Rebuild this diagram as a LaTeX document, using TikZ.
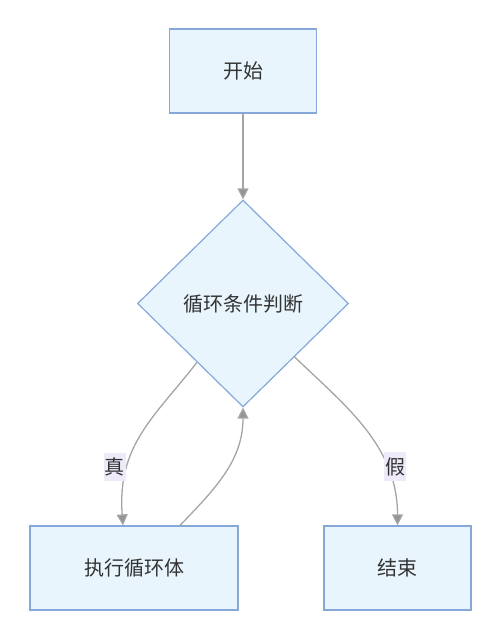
\documentclass[tikz,border=0pt]{standalone}
\usepackage{fontspec}
\usepackage{tikz}
\usetikzlibrary{shapes.geometric,arrows.meta}
\newfontfamily\cjk{Noto Sans CJK SC}
\definecolor{boxfill}{RGB}{232,245,253}
\definecolor{boxline}{RGB}{133,168,217}
\definecolor{edgegray}{RGB}{165,165,165}
\definecolor{labfill}{RGB}{238,234,250}
\tikzset{
  box/.style={draw=boxline, fill=boxfill, line width=1.2pt, rectangle, minimum height=84pt, text=black!80, font=\cjk\fontsize{20}{24}\selectfont},
  cond/.style={draw=boxline, fill=boxfill, line width=1.2pt, diamond, aspect=1, inner sep=0pt, minimum width=211pt, minimum height=207pt, text=black!80, font=\cjk\fontsize{20}{24}\selectfont},
  lab/.style={fill=labfill, inner xsep=1pt, inner ysep=5pt, text=black!80, font=\cjk\fontsize{20}{24}\selectfont},
  edge/.style={draw=edgegray, line width=1.3pt, -{Triangle[length=11pt,width=11pt,fill=edgegray!90!black]}}
}
\begin{document}
\begin{tikzpicture}[x=1pt, y=1pt]
\useasboundingbox (0,0) rectangle (500,620);
\node (start) [box, minimum width=147pt] at (243,549) {开始};
\node (judge) [cond] at (243,316.5) {循环条件判断};
\node (body) [box, minimum width=208pt] at (134,52) {执行循环体};
\node (stop) [box, minimum width=147pt] at (397.5,52) {结束};

\draw[edge] (start) -- (judge);
\draw[edge] (judge.232) .. controls +(232:70) and +(-6,80) .. node[lab, pos=0.71, xshift=-13pt] {真} ([xshift=-11pt]body.north);
\draw[edge] ([xshift=46pt]body.north) to[out=46, in=-90] (judge.south);
\draw[edge] (judge.-46) .. controls +(-44:70) and +(0,80) .. node[lab, pos=0.72, xshift=9pt] {假} (stop.north);
\end{tikzpicture}
\end{document}
